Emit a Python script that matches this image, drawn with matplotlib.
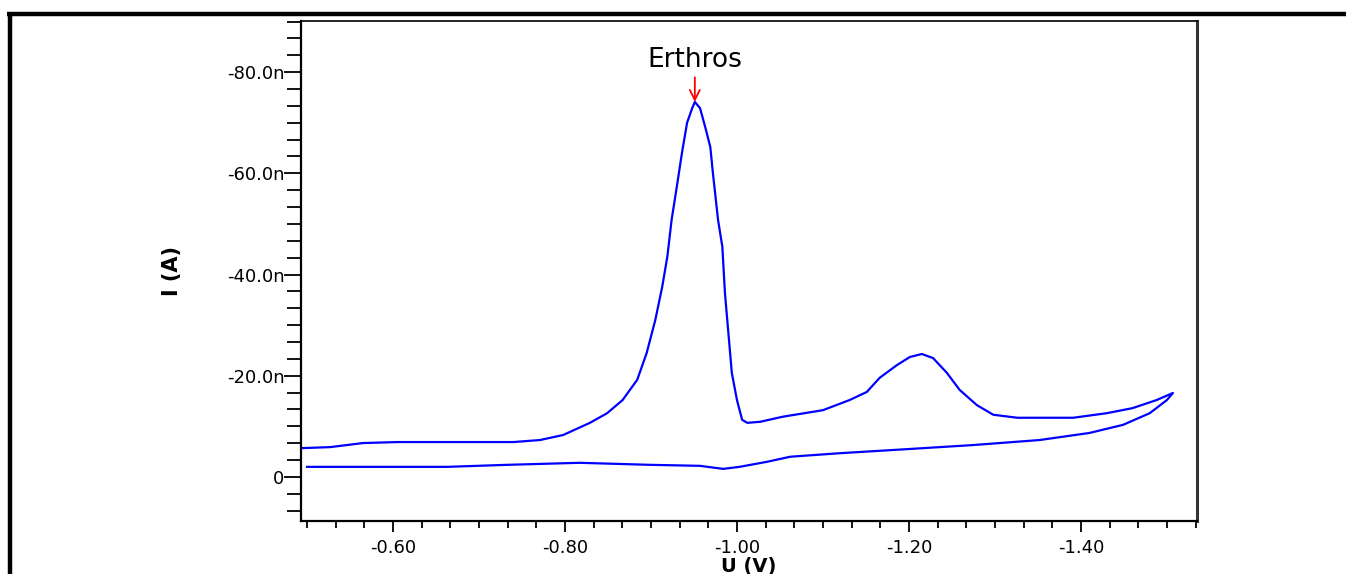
import matplotlib
matplotlib.use("Agg")
import matplotlib.pyplot as plt
from matplotlib.ticker import MultipleLocator, FixedLocator, FixedFormatter
from matplotlib.lines import Line2D

# Forward (cathodic) scan: potential in V, current in nA
forward_u = [-0.494, -0.527, -0.565, -0.605, -0.663, -0.740, -0.771, -0.798, -0.829, -0.849,
             -0.867, -0.884, -0.895, -0.905, -0.913, -0.919, -0.924, -0.930, -0.936, -0.942,
             -0.948, -0.951, -0.957, -0.963, -0.969, -0.972, -0.978, -0.983, -0.986, -0.990,
             -0.994, -1.000, -1.006, -1.012, -1.027, -1.053, -1.100, -1.131, -1.151, -1.166,
             -1.186, -1.201, -1.215, -1.228, -1.244, -1.259, -1.279, -1.298, -1.326, -1.391,
             -1.430, -1.460, -1.488, -1.507]
forward_i = [-5.7, -5.9, -6.7, -6.9, -6.9, -6.9, -7.3, -8.3, -10.7, -12.6,
             -15.2, -19.2, -24.5, -31.0, -37.5, -43.5, -50.8, -57.3, -64.0, -70.0,
             -72.9, -74.1, -72.9, -69.2, -65.2, -60.1, -50.8, -45.5, -36.4, -28.5,
             -20.6, -15.2, -11.3, -10.7, -10.9, -11.9, -13.2, -15.2, -16.8, -19.6,
             -22.1, -23.7, -24.3, -23.5, -20.6, -17.2, -14.2, -12.3, -11.7, -11.7,
             -12.6, -13.6, -15.2, -16.6]

# Return scan
return_u = [-1.507, -1.500, -1.480, -1.449, -1.410, -1.352, -1.274, -1.198, -1.120, -1.062,
            -1.035, -1.003, -0.984, -0.957, -0.899, -0.817, -0.733, -0.663, -0.585, -0.500]
return_i = [-16.6, -15.2, -12.6, -10.3, -8.7, -7.3, -6.3, -5.5, -4.7, -4.0,
            -3.0, -2.0, -1.6, -2.2, -2.4, -2.8, -2.4, -2.0, -2.0, -2.0]

x_ticks = [-0.60, -0.80, -1.00, -1.20, -1.40]
x_labels = ["-0.60", "-0.80", "-1.00", "-1.20", "-1.40"]
y_ticks = [-80, -60, -40, -20, 0]
y_labels = ["-80.0n", "-60.0n", "-40.0n", "-20.0n", "0"]

peak_u = -0.951
peak_i = -74.1
peak_label = "Erthros"

plt.rcParams['font.family'] = ['DejaVu Sans']

fig = plt.figure(figsize=(13.46, 5.74), dpi=100)
ax = fig.add_axes([301/1346, 1 - 521/574, (1197-301)/1346, (521-21)/574])

u_all = forward_u + return_u
i_all = forward_i + return_i
ax.plot(u_all, i_all, color=(0, 0, 1), lw=1.6)

ax.set_xlim(-0.493, -1.535)
ax.set_ylim(8.7, -90.1)

ax.xaxis.set_major_locator(FixedLocator(x_ticks))
ax.xaxis.set_major_formatter(FixedFormatter(x_labels))
ax.xaxis.set_minor_locator(MultipleLocator(0.2/6))
ax.yaxis.set_major_locator(FixedLocator(y_ticks))
ax.yaxis.set_major_formatter(FixedFormatter(y_labels))
ax.yaxis.set_minor_locator(MultipleLocator(20/6))

ax.tick_params(axis='x', which='major', direction='out', length=8, width=1.3, labelsize=13, pad=5)
ax.tick_params(axis='x', which='minor', direction='out', length=5, width=1.3)
ax.tick_params(axis='y', which='major', direction='out', length=12, width=1.3, labelsize=13, pad=0)
ax.tick_params(axis='y', which='minor', direction='out', length=10, width=1.3)

for s in ['left', 'bottom']:
    ax.spines[s].set_linewidth(1.6)
ax.spines['top'].set_linewidth(1.2)
ax.spines['right'].set_linewidth(2.2)
ax.spines['right'].set_color('#333333')

ax.set_ylabel("I (A)", fontsize=15, fontweight='bold', labelpad=32)
ax.set_xlabel("U (V)", fontsize=14, fontweight='bold', labelpad=0)

ax.annotate(peak_label, xy=(peak_u, peak_i), xytext=(peak_u, -79.8),
            ha='center', va='bottom', fontsize=19,
            arrowprops=dict(arrowstyle='->', color='red', lw=1.3,
                            shrinkA=1, shrinkB=0, mutation_scale=18))

# outer frame lines
fig.add_artist(Line2D([7/1346, 1.0], [1 - 14/574, 1 - 14/574], transform=fig.transFigure,
                      color='black', lw=3.2, solid_capstyle='butt'))
fig.add_artist(Line2D([9.5/1346, 9.5/1346], [0, 1 - 12.5/574], transform=fig.transFigure,
                      color='black', lw=3.2, solid_capstyle='butt'))

fig.savefig("out.png", dpi=100)
